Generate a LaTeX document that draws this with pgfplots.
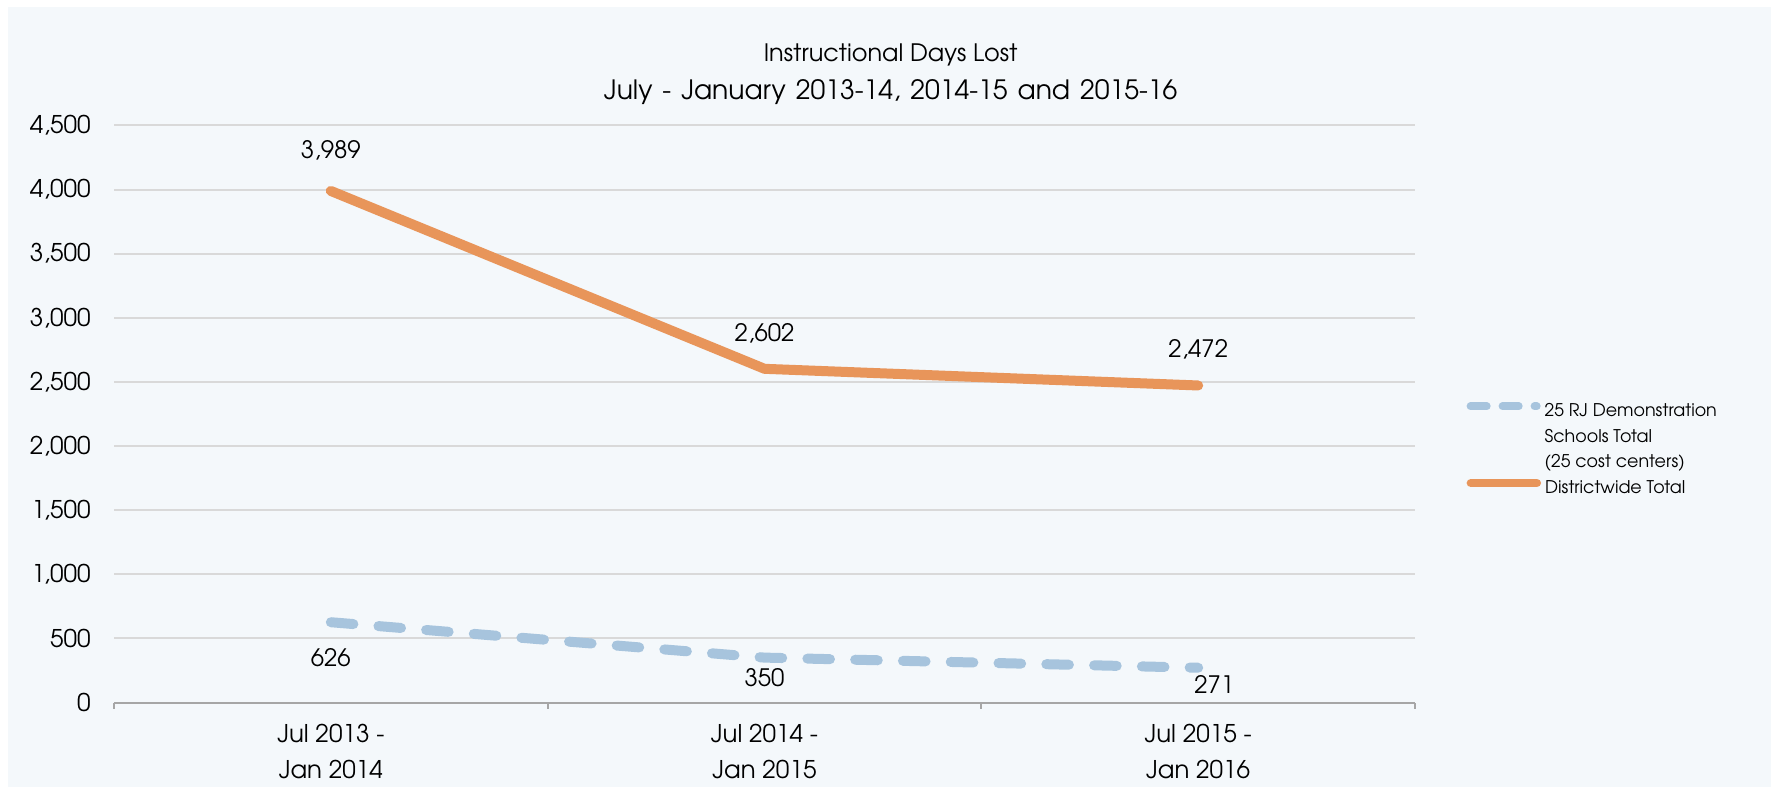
\documentclass[border=0pt]{standalone}
\usepackage{pgfplots}
\pgfplotsset{compat=1.18}
\usepackage{fontspec}
\setmainfont{texgyreadventor}[Extension=.otf,UprightFont=*-regular,BoldFont=*-bold,ItalicFont=*-italic,BoldItalicFont=*-bolditalic]
\newfontfamily\titlewide{texgyreadventor}[Extension=.otf,UprightFont=*-regular,WordSpace=1.35]
\definecolor{panel}{RGB}{244,248,251}
\definecolor{orangeL}{RGB}{232,149,90}
\definecolor{blueL}{RGB}{167,196,221}
\definecolor{gridc}{RGB}{217,217,217}
\definecolor{axisc}{RGB}{166,166,166}
\newcommand{\bluesample}{\tikz[baseline=0pt]{\path (0pt,0pt) (37pt,0pt); \draw[blueL, line width=3.8pt, line cap=round, dash pattern=on 8.2pt off 7.8pt] (1.9pt,5.2pt) -- (35.1pt,5.2pt);}}
\newcommand{\orangesample}{\tikz[baseline=0pt]{\path (0pt,0pt) (37pt,0pt); \draw[orangeL, line width=4.2pt, line cap=round] (2pt,5.2pt) -- (35pt,5.2pt);}}
\newcommand{\nosample}{\hspace*{37pt}}
\begin{document}
\begin{tikzpicture}
\fill[white] (0,0) rectangle (885.5pt,393.5pt);
\fill[panel] (4pt,0) rectangle (885.5pt,390pt);
\begin{axis}[
  at={(57pt,42.25pt)}, anchor=south west,
  scale only axis, width=650.5pt, height=288.55pt,
  xmin=-0.5, xmax=2.5, ymin=0, ymax=4500,
  axis x line*=bottom, axis y line*=left,
  x axis line style={draw=axisc, line width=1pt},
  y axis line style={draw=none},
  ytick={0,500,...,4500},
  ytick style={draw=none},
  xtick={0,1,2},
  xticklabels={{Jul 2013 -\\Jan 2014},{Jul 2014 -\\Jan 2015},{Jul 2015 -\\Jan 2016}},
  xtick style={draw=axisc, line width=1pt},
  major tick length=0pt,
  extra x ticks={-0.5,0.5,1.5,2.5},
  extra x tick labels={},
  extra x tick style={major tick length=3pt, tick align=outside},
  ymajorgrids,
  grid style={gridc, line width=1pt},
  ticklabel style={font=\fontsize{12.2}{18}\selectfont, text=black},
  xticklabel style={align=center, anchor=north, inner sep=0pt, yshift=-10.5pt},
  yticklabel style={anchor=east, inner sep=0pt, xshift=-11.5pt},
  /pgf/number format/.cd, 1000 sep={,}, assume math mode=true,
  /pgfplots/.cd,
  legend style={at={(1.0363,0.534)}, anchor=north west, draw=none, fill=none,
    inner sep=0pt, row sep=0pt, column sep=0pt,
    cells={anchor=base west, inner sep=0pt},
    font=\fontsize{8.75}{12.8}\selectfont},
  legend image code/.code={},
  clip=false,
]
\addplot[blueL, line width=5pt, line cap=round, dash pattern=on 11.3pt off 12.6pt] coordinates {(0,626) (1,350) (2,271)};
\addlegendentry{\begin{tabular}[t]{@{}l@{}}\bluesample\hspace{2pt}25 RJ Demonstration\\\nosample\hspace{2pt}Schools Total\\\nosample\hspace{2pt}(25 cost centers)\\\orangesample\hspace{2pt}Districtwide Total\end{tabular}}
\addplot[orangeL, line width=5pt, line cap=round, line join=round, forget plot] coordinates {(0,3989) (1,2602) (2,2472)};
\begin{scope}[every node/.style={font=\fontsize{12}{14}\selectfont, text=black}]
\node at (axis cs:0,4307) {3,989};
\node at (axis cs:1,2882) {2,602};
\node at (axis cs:2,2757) {2,472};
\node at (axis cs:0,347) {626};
\node at (axis cs:1,191) {350};
\node at (axis cs:2.037,140) {271};
\end{scope}
\node[align=center, text=black, font=\fontsize{12}{18.6}\selectfont] at (rel axis cs:0.597,1) [yshift=25.6pt] {Instructional Days Lost\\{\titlewide\fontsize{13.3}{18.6}\selectfont July - January 2013-14, 2014-15 and 2015-16}};
\end{axis}
\end{tikzpicture}
\end{document}
